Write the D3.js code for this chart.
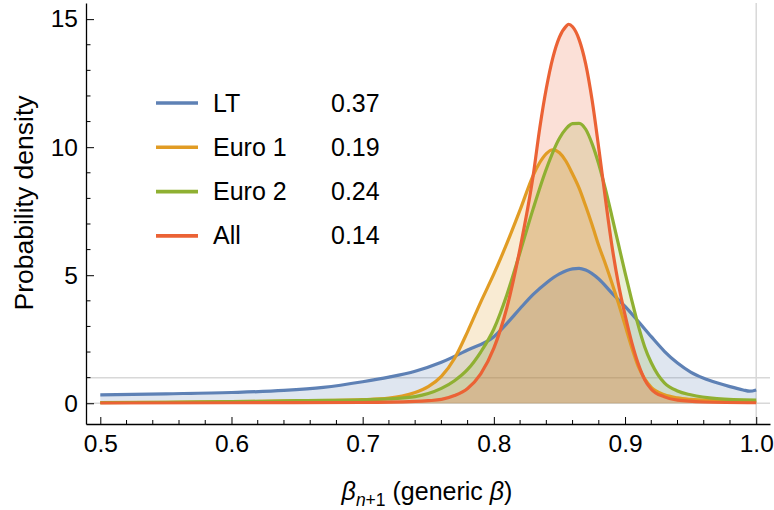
<!DOCTYPE html>
<html>
<head>
<meta charset="utf-8">
<title>Probability density of generic beta</title>
<style>
  body { margin: 0; background: #fff; }
  text { font-family: "Liberation Sans", Arial, sans-serif; fill: #000; }
</style>
</head>
<body>
<script src="https://cdn.jsdelivr.net/npm/d3@7"></script>
<script>

// series names and legend values
var seriesNames = ["LT", "Euro 1", "Euro 2", "All"];
var legendValues = ["0.37", "0.19", "0.24", "0.14"];
var colors = ["#5e81b5", "#e19c24", "#8fb032", "#eb6235"];

// density curves, [beta, density]
var ltDensity = [
  [0.50, 0.33], [0.55, 0.37], [0.60, 0.42], [0.64, 0.50], [0.67, 0.62],
  [0.70, 0.84], [0.72, 1.02], [0.74, 1.25], [0.76, 1.60], [0.78, 2.08],
  [0.80, 2.60], [0.81, 3.12], [0.82, 3.70], [0.83, 4.25], [0.84, 4.70],
  [0.85, 5.05], [0.86, 5.25], [0.865, 5.27], [0.87, 5.20], [0.88, 4.85],
  [0.89, 4.30], [0.90, 3.78], [0.91, 3.20], [0.92, 2.60], [0.93, 2.03],
  [0.94, 1.57], [0.95, 1.22], [0.96, 0.98], [0.97, 0.80], [0.98, 0.65],
  [0.99, 0.52], [0.995, 0.47], [1.00, 0.52]
];
var euro1Density = [
  [0.50, 0.03], [0.55, 0.04], [0.60, 0.06], [0.65, 0.09], [0.70, 0.14],
  [0.72, 0.20], [0.73, 0.28], [0.74, 0.42], [0.75, 0.65], [0.76, 1.05],
  [0.77, 1.75], [0.78, 2.80], [0.79, 3.95], [0.80, 5.05], [0.81, 6.25],
  [0.82, 7.55], [0.83, 8.90], [0.835, 9.40], [0.84, 9.75], [0.845, 9.90],
  [0.85, 9.78], [0.855, 9.45], [0.86, 8.95], [0.865, 8.40], [0.87, 7.70],
  [0.875, 6.95], [0.88, 6.15], [0.885, 5.45], [0.89, 4.70], [0.895, 3.90],
  [0.90, 3.05], [0.905, 2.20], [0.91, 1.45], [0.915, 0.95], [0.92, 0.62],
  [0.93, 0.33], [0.94, 0.21], [0.95, 0.15], [0.97, 0.10], [1.00, 0.05]
];
var euro2Density = [
  [0.50, 0.02], [0.55, 0.04], [0.60, 0.06], [0.65, 0.10], [0.70, 0.13],
  [0.72, 0.17], [0.74, 0.26], [0.75, 0.38], [0.76, 0.58], [0.77, 0.88],
  [0.78, 1.32], [0.79, 2.00], [0.80, 2.90], [0.81, 4.25], [0.82, 5.90],
  [0.83, 7.60], [0.84, 9.15], [0.85, 10.35], [0.855, 10.72], [0.86, 10.92],
  [0.865, 10.93], [0.87, 10.70], [0.875, 10.12], [0.88, 9.33], [0.885, 8.37],
  [0.89, 7.30], [0.895, 6.20], [0.90, 5.10], [0.905, 4.05], [0.91, 3.05],
  [0.915, 2.20], [0.92, 1.58], [0.925, 1.12], [0.93, 0.80], [0.94, 0.48],
  [0.95, 0.33], [0.97, 0.18], [1.00, 0.12]
];
var allDensity = [
  [0.50, 0.01], [0.60, 0.02], [0.70, 0.03], [0.74, 0.07], [0.75, 0.10],
  [0.76, 0.15], [0.77, 0.30], [0.78, 0.58], [0.79, 1.15], [0.80, 2.15],
  [0.81, 3.75], [0.82, 6.05], [0.83, 8.90], [0.835, 10.75], [0.84, 12.30],
  [0.845, 13.50], [0.85, 14.30], [0.855, 14.72], [0.857, 14.80], [0.86, 14.70],
  [0.865, 14.20], [0.87, 13.25], [0.875, 11.80], [0.88, 9.95], [0.885, 8.00],
  [0.89, 6.15], [0.895, 4.65], [0.90, 3.45], [0.905, 2.40], [0.91, 1.55],
  [0.915, 0.92], [0.92, 0.55], [0.93, 0.25], [0.94, 0.12], [0.96, 0.05],
  [1.00, 0.02]
];

var xTicks = [0.5, 0.6, 0.7, 0.8, 0.9, 1.0];
var xTickLabels = ["0.5", "0.6", "0.7", "0.8", "0.9", "1.0"];
var yTicks = [0, 5, 10, 15];
var gridY = [0, 1];
var gridX = [1.0];

var allSeries = [ltDensity, euro1Density, euro2Density, allDensity];

var width = 774, height = 510;
var plot = { left: 86, right: 770, top: 3, bottom: 424 };

var x = d3.scaleLinear().domain([0.4891, 1.0105]).range([plot.left, plot.right]);
var y = d3.scaleLinear().domain([-0.81, 15.63]).range([plot.bottom, plot.top]);

var svg = d3.select("body").append("svg")
    .attr("width", width)
    .attr("height", height);

// grid lines
svg.append("g").selectAll("line")
    .data(gridY)
    .enter().append("line")
    .attr("x1", plot.left).attr("x2", plot.right)
    .attr("y1", function(d) { return y(d); })
    .attr("y2", function(d) { return y(d); })
    .style("stroke", "#d8d8d8")
    .style("stroke-width", 1.5);

svg.append("g").selectAll("line")
    .data(gridX)
    .enter().append("line")
    .attr("x1", function(d) { return x(d); })
    .attr("x2", function(d) { return x(d); })
    .attr("y1", plot.top).attr("y2", plot.bottom)
    .style("stroke", "#d8d8d8")
    .style("stroke-width", 1.5);

var area = d3.area()
    .curve(d3.curveMonotoneX)
    .x(function(d) { return x(d[0]); })
    .y0(y(0))
    .y1(function(d) { return y(d[1]); });

var line = d3.line()
    .curve(d3.curveMonotoneX)
    .x(function(d) { return x(d[0]); })
    .y(function(d) { return y(d[1]); });

// fills first, then curves on top
svg.append("g").selectAll("path")
    .data(allSeries)
    .enter().append("path")
    .attr("d", area)
    .style("fill", function(d, i) { return colors[i]; })
    .style("fill-opacity", 0.2)
    .style("stroke", "none");

svg.append("g").selectAll("path")
    .data(allSeries)
    .enter().append("path")
    .attr("d", line)
    .style("fill", "none")
    .style("stroke", function(d, i) { return colors[i]; })
    .style("stroke-width", 3.2)
    .style("stroke-linejoin", "round");

// axes (ticks point inward, like a frame)
var xAxis = d3.axisBottom(x)
    .tickValues(xTicks)
    .tickFormat(function(d, i) { return xTickLabels[i]; })
    .tickSizeInner(-7)
    .tickSizeOuter(0)
    .tickPadding(11);

var gx = svg.append("g")
    .attr("transform", "translate(0," + plot.bottom + ")")
    .call(xAxis);

gx.selectAll(".tick text").style("font-size", "24.5px");

var xMinor = d3.range(0.5, 1.0001, 0.02).filter(function(v) {
  return Math.abs(v * 10 - Math.round(v * 10)) > 0.01;
});
gx.selectAll(".minor")
    .data(xMinor)
    .enter().append("line")
    .attr("class", "minor")
    .attr("x1", function(d) { return x(d); })
    .attr("x2", function(d) { return x(d); })
    .attr("y1", 0).attr("y2", -4)
    .style("stroke", "#000");

var yAxis = d3.axisLeft(y)
    .tickValues(yTicks)
    .tickSizeInner(-8)
    .tickSizeOuter(0)
    .tickPadding(8);

var gy = svg.append("g")
    .attr("transform", "translate(" + plot.left + ",0)")
    .call(yAxis);

gy.selectAll(".tick text").style("font-size", "24.5px");

var yMinor = d3.range(0, 16, 1).filter(function(v) { return v % 5 != 0; });
gy.selectAll(".minor")
    .data(yMinor)
    .enter().append("line")
    .attr("class", "minor")
    .attr("x1", 0).attr("x2", 4.5)
    .attr("y1", function(d) { return y(d); })
    .attr("y2", function(d) { return y(d); })
    .style("stroke", "#000");

svg.selectAll(".domain").style("stroke", "#000").style("stroke-width", 1.3);

// axis titles
var xTitle = svg.append("text")
    .attr("x", 427)
    .attr("y", 500)
    .style("text-anchor", "middle")
    .style("font-size", "25px");
xTitle.append("tspan").style("font-style", "italic").text("\u03b2");
xTitle.append("tspan").style("font-style", "italic").style("font-size", "17.5px")
    .attr("dy", 6).text("n");
xTitle.append("tspan").style("font-size", "17.5px").text("+1");
xTitle.append("tspan").attr("dy", -6).text(" (generic ");
xTitle.append("tspan").style("font-style", "italic").text("\u03b2");
xTitle.append("tspan").text(")");

svg.append("text")
    .attr("transform", "translate(33,203) rotate(-90)")
    .style("text-anchor", "middle")
    .style("font-size", "26.5px")
    .text("Probability density");

// legend
var legend = svg.append("g").selectAll("g")
    .data(seriesNames)
    .enter().append("g")
    .attr("transform", function(d, i) { return "translate(156," + (103 + i * 44.3) + ")"; });

legend.append("line")
    .attr("x1", 0).attr("x2", 42)
    .style("stroke", function(d, i) { return colors[i]; })
    .style("stroke-width", 3.6);

legend.append("text")
    .attr("x", 57).attr("y", 8.5)
    .style("font-size", "25px")
    .text(function(d) { return d; });

legend.append("text")
    .attr("x", 175).attr("y", 8.5)
    .style("font-size", "25px")
    .text(function(d, i) { return legendValues[i]; });

</script>
</body>
</html>
